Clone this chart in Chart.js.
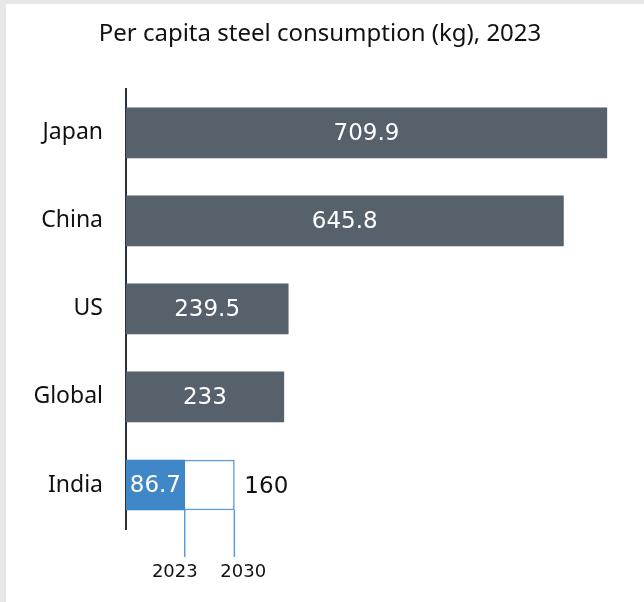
<!DOCTYPE html>
<html>
<head>
<meta charset="utf-8">
<script src="https://cdn.jsdelivr.net/npm/chart.js@4"></script>
<style>
  html, body { margin: 0; padding: 0; background: #e6e7e9; }
  #wrap { position: absolute; left: 6px; top: 4px; width: 638px; height: 598px; background: #fff; }
</style>
</head>
<body>
<div id="wrap"><canvas id="chart" width="638" height="598"></canvas></div>
<script>
var countries = ["Japan", "China", "US", "Global", "India"];
var consumption2023 = [709.9, 645.8, 239.5, 233, 86.7];
var india2030 = [null, null, null, null, 160];
var yearLabels = ["2023", "2030"];

var grey = "#56616c";
var blue = "#3f87c7";
var outline = "#5b9bd6";

var barLabels = {
    id: "barLabels",
    afterDatasetsDraw: function (chart) {
        var c = chart.ctx;
        var main = chart.getDatasetMeta(0).data;
        var future = chart.getDatasetMeta(1).data;
        c.save();
        c.textBaseline = "middle";
        c.font = "23px 'DejaVu Sans'";
        c.fillStyle = "#ffffff";
        c.textAlign = "center";
        main.forEach(function (bar, i) {
            c.fillText(String(consumption2023[i]), (bar.base + bar.x) / 2, bar.y + 1);
        });
        var last = future[4];
        c.fillStyle = "#111";
        c.textAlign = "left";
        c.fillText(String(india2030[4]), last.x + 10, last.y + 2);

        // year markers under the India bar
        var bottom = last.y + last.height / 2;
        var xs = [main[4].x, last.x];
        c.strokeStyle = outline;
        c.lineWidth = 1.5;
        xs.forEach(function (x) {
            c.beginPath();
            c.moveTo(x, bottom);
            c.lineTo(x, bottom + 47);
            c.stroke();
        });
        c.font = "18px 'DejaVu Sans'";
        c.fillStyle = "#111";
        c.textAlign = "right";
        c.fillText(yearLabels[0], xs[0] + 13, bottom + 62);
        c.textAlign = "left";
        c.fillText(yearLabels[1], xs[1] - 14, bottom + 62);
        c.restore();
    }
};

new Chart(document.getElementById("chart"), {
    type: "bar",
    data: {
        labels: countries,
        datasets: [{
            data: consumption2023,
            backgroundColor: [grey, grey, grey, grey, blue],
            borderWidth: 0,
            grouped: false,
            order: 1,
            barThickness: 50
        }, {
            data: india2030,
            backgroundColor: "#ffffff",
            borderColor: outline,
            borderWidth: 1.5,
            borderSkipped: false,
            grouped: false,
            order: 2,
            barThickness: 50
        }]
    },
    options: {
        indexAxis: "y",
        responsive: false,
        animation: false,
        layout: { padding: { left: 0, right: 10, top: 0, bottom: 73 } },
        plugins: {
            legend: { display: false },
            tooltip: { enabled: false },
            title: {
                display: true,
                text: "Per capita steel consumption (kg), 2023",
                color: "#111",
                font: { family: "'Noto Sans'", size: 24, weight: "normal" },
                padding: { top: 16, bottom: 40 }
            }
        },
        scales: {
            x: { display: false, min: 0, max: 750 },
            y: {
                grid: { display: false, drawTicks: false },
                border: { display: true, color: "#2b3039", width: 2 },
                ticks: {
                    color: "#111",
                    padding: 23,
                    font: { family: "'Noto Sans'", size: 23 }
                },
                afterFit: function (scale) { scale.width = 120; }
            }
        }
    },
    plugins: [barLabels]
});
</script>
</body>
</html>
